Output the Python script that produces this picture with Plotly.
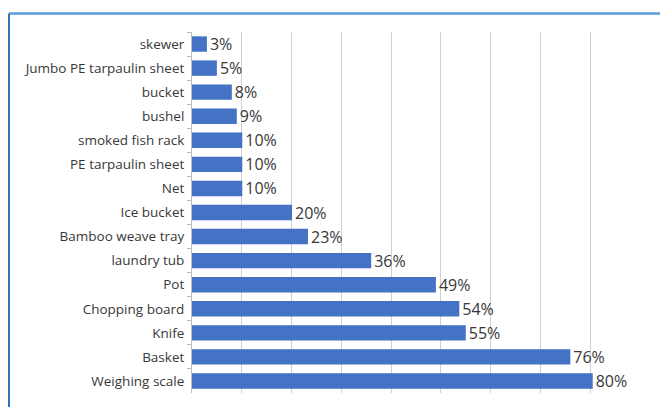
import plotly.graph_objects as go

categories = ["skewer", "Jumbo PE tarpaulin sheet", "bucket", "bushel", "smoked fish rack",
              "PE tarpaulin sheet", "Net", "Ice bucket", "Bamboo weave tray", "laundry tub",
              "Pot", "Chopping board", "Knife", "Basket", "Weighing scale"]
values = [0.03, 0.05, 0.08, 0.09, 0.101, 0.101, 0.101, 0.201, 0.233, 0.36, 0.49, 0.537, 0.55, 0.76, 0.805]
labels = ["3%", "5%", "8%", "9%", "10%", "10%", "10%", "20%", "23%", "36%", "49%", "54%", "55%", "76%", "80%"]

W, H = 660, 407
L, R, T, B = 192, 20, 32, 14
pw, ph = W - L - R, H - T - B

fig = go.Figure(go.Bar(
    y=categories, x=values, orientation="h",
    marker=dict(color="#4472C4", line=dict(width=0)),
    text=labels, textposition="outside", cliponaxis=False, constraintext="none",
    textfont=dict(family="Open Sans", size=16, color="#383838"),
    width=0.64,
))

def px_x(p):
    return (p - L) / pw

def px_y(p):
    return 1 - (p - T) / ph

fig.update_layout(
    width=W, height=H,
    margin=dict(l=L, r=R, t=T, b=B),
    paper_bgcolor="white", plot_bgcolor="white",
    showlegend=False,
    font=dict(family="Open Sans", size=13.5, color="#383838"),
    xaxis=dict(range=[0, 0.9], dtick=0.1, showticklabels=False, showgrid=True,
               gridcolor="#D0D0D0", gridwidth=1, zeroline=False, showline=False, ticks=""),
    yaxis=dict(autorange="reversed", showline=True, linecolor="#BFBFBF", linewidth=1,
               ticks="outside", ticklen=4, tickcolor="#BFBFBF", tickson="boundaries",
               showgrid=False, ticklabelstandoff=4,
               tickfont=dict(family="Open Sans", size=13.5, color="#383838")),
    shapes=[
        dict(type="line", xref="paper", yref="paper", x0=px_x(9), x1=px_x(W + 5),
             y0=px_y(13.5), y1=px_y(13.5), line=dict(color="#5B9BD5", width=2.5)),
        dict(type="line", xref="paper", yref="paper", x0=px_x(9), x1=px_x(9),
             y0=px_y(13.5), y1=px_y(H + 5), line=dict(color="#2E75B6", width=2)),
    ],
)

fig.write_html("out.html")
